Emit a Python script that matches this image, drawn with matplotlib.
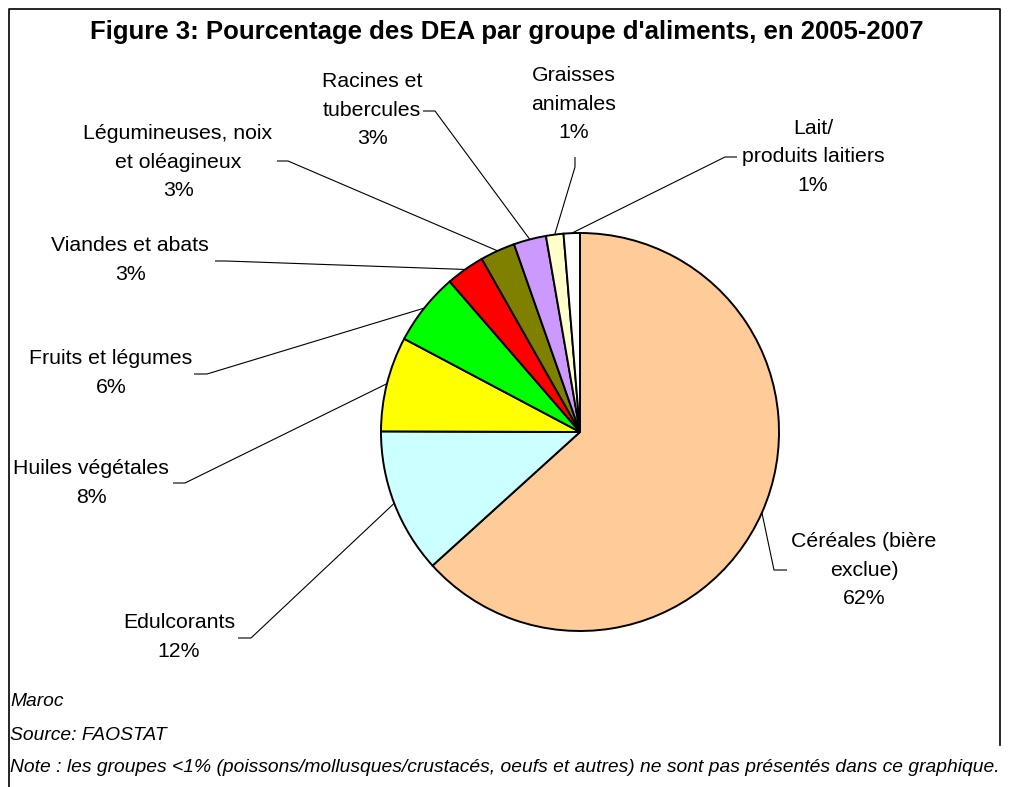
import matplotlib
matplotlib.use("Agg")
import matplotlib.pyplot as plt
import numpy as np

plt.rcParams['font.family'] = ['Liberation Sans', 'DejaVu Sans']

W, H = 1009, 787

categories = ["Céréales (bière\nexclue)", "Edulcorants", "Huiles végétales",
              "Fruits et légumes", "Viandes et abats",
              "Légumineuses, noix\net oléagineux", "Racines et\ntubercules",
              "Graisses\nanimales", "Lait/\nproduits laitiers"]
values = [62.4, 11.6, 7.6, 5.8, 3.1, 2.8, 2.6, 1.4, 1.3]
colors = ["#FFCC99", "#CCFFFF", "#FFFF00", "#00FF00", "#FF0000",
          "#808000", "#CC99FF", "#FFFFCC", "#FFFFFF"]

# label block centre, then the leader polyline from text side toward the pie (pixel coords, y down)
label_pos = [(864, 570), (179, 637), (91, 483), (111, 373), (130, 260),
             (178, 162), (372, 110), (574, 104), (813, 157)]
stubs = [[(787, 570), (774, 570)], [(238, 638), (251, 638)], [(173, 483), (185, 483)],
         [(194, 374), (207, 374)], [(215, 261), (226, 261)], [(277, 161), (288, 161)],
         [(423, 111), (435, 111)], [(575, 157), (575, 167)], [(737, 157), (725, 157)]]

fig = plt.figure(figsize=(W / 100, H / 100), dpi=100)
ax = fig.add_axes([0, 0, 1, 1])

cx, cy, r = 580, H - 432, 199
wedges, _ = ax.pie(values, colors=colors, startangle=90, counterclock=False,
                   center=(cx, cy), radius=r,
                   wedgeprops=dict(edgecolor="black", linewidth=1.4))

ax.set_xlim(0, W)
ax.set_ylim(0, H)
ax.set_aspect("equal")
ax.axis("off")

for w, name, v, (tx, ty), st in zip(wedges, categories, values, label_pos, stubs):
    mid = np.deg2rad((w.theta1 + w.theta2) / 2)
    anchor = (cx + r * np.cos(mid), cy + r * np.sin(mid))
    pts = [(x, H - y) for x, y in st] + [anchor]
    xs, ys = zip(*pts)
    ax.plot(xs, ys, color="black", lw=0.8, solid_capstyle="butt")
    ax.text(tx, H - ty, f"{name}\n{v:.0f}%", ha="center", va="center",
            fontsize=15.3, linespacing=1.65, color="black")

ax.text(507, H - 32, "Figure 3: Pourcentage des DEA par groupe d'aliments, en 2005-2007",
        ha="center", va="center", fontsize=18.5, fontweight="bold")

notes = ["Maroc", "Source: FAOSTAT",
         "Note : les groupes <1% (poissons/mollusques/crustacés, oeufs et autres) ne sont pas présentés dans ce graphique."]
for i, t in enumerate(notes):
    ax.text(10, H - (702 + 33 * i), t, ha="left", va="center", fontsize=13.9,
            style="italic")

# frame
ax.plot([9, 9, 1000, 1000], [0, H - 9, H - 9, H - 745], color="black", lw=1.2)

fig.savefig("out.png", dpi=100)
